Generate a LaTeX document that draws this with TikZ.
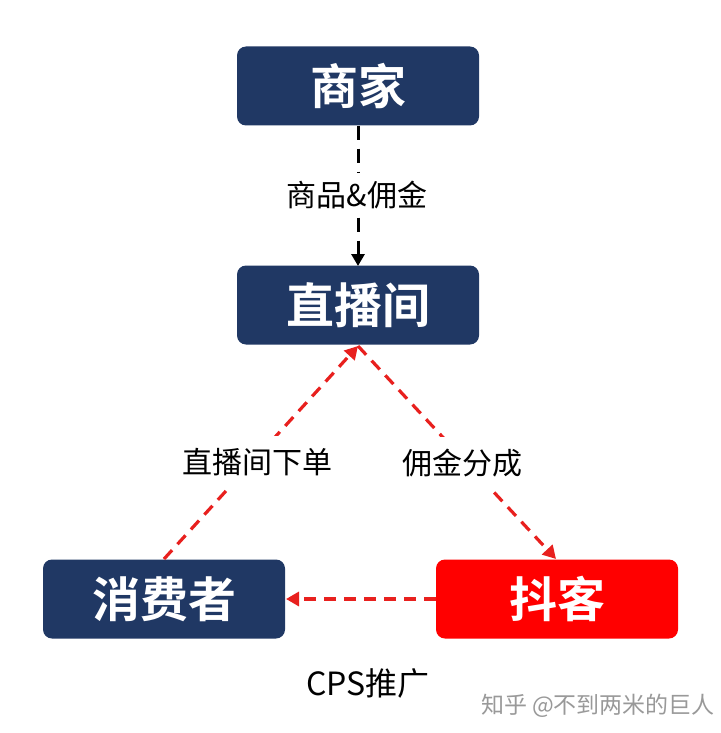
\documentclass[tikz,border=0pt]{standalone}
\usepackage{fontspec}
\setmainfont{Noto Sans CJK SC}
\newfontfamily\cjkbold{Noto Sans CJK SC Bold}
\usetikzlibrary{arrows.meta}
\definecolor{navy}{HTML}{203864}
\definecolor{lred}{HTML}{E8201E}
\definecolor{boxred}{HTML}{FF0000}
\tikzset{
  box/.style={rounded corners=9pt, minimum width=242pt, minimum height=79pt, inner sep=0pt, text=white, font=\cjkbold\fontsize{48}{52}\selectfont},
  navybox/.style={box, fill=navy},
  redbox/.style={box, fill=boxred},
  lbl/.style={font=\fontsize{30}{34}\selectfont, text=black, inner sep=0pt},
  blkarrow/.style={draw=black, line width=3pt, dash pattern=on 14pt off 9pt, -{Triangle[length=12pt,width=13pt]}},
  redarrow/.style={draw=lred, line width=3.2pt, dash pattern=on 12pt off 8pt, -{Triangle[length=13pt,width=14pt]}, color=lred},
}
\begin{document}
\begin{tikzpicture}[x=1pt,y=-1pt]
\useasboundingbox (0,0) rectangle (720,733);
\node[navybox] (shang) at (358,86) {商家};
\node[navybox] (zhibo) at (358,305) {直播间};
\node[navybox] (xiao) at (164,599) {消费者};
\node[redbox] (douke) at (557,599) {抖客};

\coordinate (zb) at (358,346);
\coordinate (zbt) at (358,266);
\coordinate (xt) at (164,559);
\coordinate (dt) at (556,559);
\coordinate (dl) at (436,599);
\coordinate (xr) at (286,599);

\draw[blkarrow] (shang.south) -- (zbt);
\node[lbl, fill=white, inner xsep=4pt, inner ysep=8pt] (l1) at (357,195) {商品\&佣金};

\draw[redarrow] (xt) -- (zb);
\draw[redarrow] (zb) -- (dt);
\draw[redarrow] (dl) -- (xr);

\node[lbl, fill=white, inner xsep=4pt, inner ysep=12pt] (l2) at (257,462) {直播间下单};
\node[lbl, fill=white, inner xsep=4pt, inner ysep=12pt] (l3) at (462,463) {佣金分成};
\node[lbl, font=\fontsize{32}{36}\selectfont] (l4) at (368,683) {CPS推广};
\node[font=\fontsize{23}{26}\selectfont, text=black!40, inner sep=0pt] (wm) at (598,706) {知乎 @不到两米的巨人};
\end{tikzpicture}
\end{document}
